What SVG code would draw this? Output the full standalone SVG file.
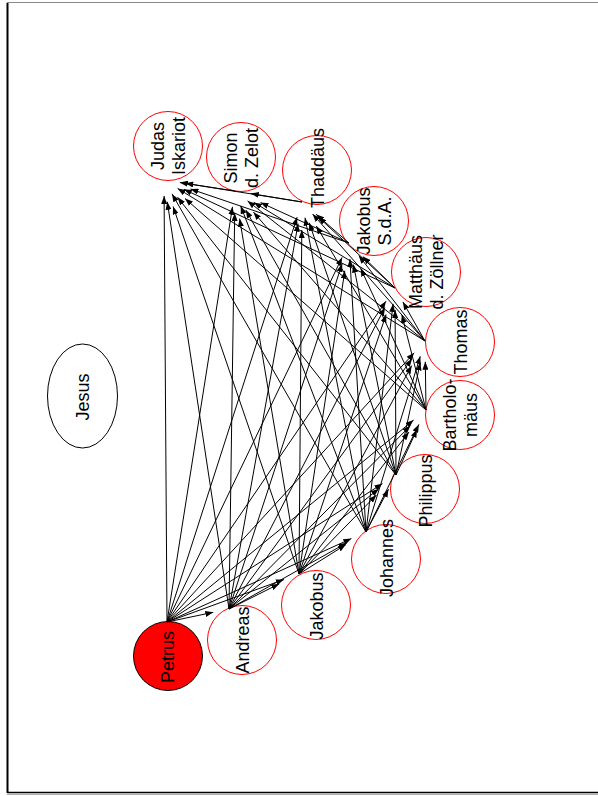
<svg xmlns="http://www.w3.org/2000/svg" width="598" height="796" viewBox="0 0 598 796">
<style>
.n{fill:#fff;stroke:#ff0000;stroke-width:1}
.t{font-family:"Liberation Sans",Arial,sans-serif;font-size:18px;fill:#000;text-anchor:middle}
.e line{stroke:#000;stroke-width:1;marker-end:url(#ah)}
</style>
<defs>
<marker id="ah" markerUnits="userSpaceOnUse" markerWidth="8" markerHeight="6" refX="8" refY="3" orient="auto">
<path d="M0,0 L8,3 L0,6 z" fill="#000"/>
</marker>
</defs>
<rect width="598" height="796" fill="#fff"/>
<g id="frame">
<line x1="7" y1="2.5" x2="598" y2="2.5" stroke="#888" stroke-width="1"/>
<line x1="7.5" y1="3" x2="7.5" y2="793" stroke="#000" stroke-width="2"/>
<line x1="7" y1="792.5" x2="598" y2="792.5" stroke="#000" stroke-width="1.5"/>
<line x1="7" y1="794.3" x2="598" y2="794.3" stroke="#999" stroke-width="1"/>
</g>
<g id="jesus"><ellipse cx="82.5" cy="396" rx="35" ry="52" fill="#fff" stroke="#000" stroke-width="1"/><text class="t" transform="translate(82.5,397) rotate(-90)" y="6">Jesus</text></g>
<g id="petrus"><circle cx="168" cy="656" r="34.5" fill="#ff0000" stroke="#000" stroke-width="1"/><text class="t" transform="translate(168,657) rotate(-90)" y="6">Petrus</text></g>
<g id="andreas"><circle class="n" cx="242" cy="640" r="34.5"/><text class="t" transform="translate(242,640) rotate(-90)" y="6.5">Andreas</text></g>
<g id="jakobus"><circle class="n" cx="316" cy="605" r="34.5"/><text class="t" transform="translate(316,606) rotate(-90)" y="6.5">Jakobus</text></g>
<g id="johannes"><circle class="n" cx="386" cy="559" r="34.5"/><text class="t" transform="translate(386,558) rotate(-90)" y="6.5">Johannes</text></g>
<g id="philippus"><circle class="n" cx="425" cy="489" r="34.5"/><text class="t" transform="translate(425,491) rotate(-90)" y="6.5">Philippus</text></g>
<g id="bartholomaeus"><circle class="n" cx="460" cy="415" r="34.5"/><text class="t" transform="translate(460,415) rotate(-90)"><tspan x="0" y="-3.8">Bartholo-</tspan><tspan x="0" y="17.2">mäus</tspan></text></g>
<g id="thomas"><circle class="n" cx="460" cy="342" r="34.5"/><text class="t" transform="translate(460,342) rotate(-90)" y="6.5">Thomas</text></g>
<g id="matthaeus"><circle class="n" cx="426" cy="272" r="34.5"/><text class="t" transform="translate(426,272) rotate(-90)"><tspan x="0" y="-3.8">Matthäus</tspan><tspan x="0" y="17.2">d. Zöllner</tspan></text></g>
<g id="jakobus-sda"><circle class="n" cx="374" cy="221" r="34.5"/><text class="t" transform="translate(374,221) rotate(-90)"><tspan x="0" y="-3.8">Jakobus</tspan><tspan x="0" y="17.2">S.d.A.</tspan></text></g>
<g id="thaddaeus"><circle class="n" cx="317" cy="170" r="34.5"/><text class="t" transform="translate(317,168) rotate(-90)" y="6.5">Thaddäus</text></g>
<g id="simon"><circle class="n" cx="241" cy="157" r="34.5"/><text class="t" transform="translate(241,158) rotate(-90)"><tspan x="0" y="-3.8">Simon</tspan><tspan x="0" y="17.2">d. Zelot</tspan></text></g>
<g id="judas"><circle class="n" cx="168" cy="146" r="34.5"/><text class="t" transform="translate(168,146) rotate(-90)"><tspan x="0" y="-3.8">Judas</tspan><tspan x="0" y="17.2">Iskariot</tspan></text></g>
<g id="connectors" class="e">
<line x1="167" y1="622" x2="213.3" y2="612.3"/>
<line x1="167" y1="622" x2="284" y2="579.5"/>
<line x1="167" y1="622" x2="351.4" y2="538.6"/>
<line x1="167" y1="622" x2="382.5" y2="483.6"/>
<line x1="167" y1="622" x2="413.6" y2="420.1"/>
<line x1="167" y1="622" x2="414.2" y2="352.8"/>
<line x1="167" y1="622" x2="386" y2="301.2"/>
<line x1="167" y1="622" x2="342.1" y2="257.4"/>
<line x1="167" y1="622" x2="297.1" y2="217.2"/>
<line x1="167" y1="622" x2="232.5" y2="206.8"/>
<line x1="167" y1="622" x2="164.1" y2="196"/>
<line x1="229" y1="609" x2="279.3" y2="583.8"/>
<line x1="229" y1="609" x2="346.8" y2="542.8"/>
<line x1="229" y1="609" x2="378.8" y2="488.8"/>
<line x1="229" y1="609" x2="410.5" y2="425.6"/>
<line x1="229" y1="609" x2="412" y2="358.8"/>
<line x1="229" y1="609" x2="384.9" y2="307.5"/>
<line x1="229" y1="609" x2="342.1" y2="263.9"/>
<line x1="229" y1="609" x2="298.1" y2="223.7"/>
<line x1="229" y1="609" x2="234.7" y2="213"/>
<line x1="229" y1="609" x2="167.3" y2="201.8"/>
<line x1="299" y1="574" x2="345.9" y2="544.6"/>
<line x1="299" y1="574" x2="376.4" y2="495"/>
<line x1="299" y1="574" x2="408.9" y2="432.1"/>
<line x1="299" y1="574" x2="411.7" y2="365.6"/>
<line x1="299" y1="574" x2="386.1" y2="314.5"/>
<line x1="299" y1="574" x2="344.8" y2="270.7"/>
<line x1="299" y1="574" x2="301.8" y2="230"/>
<line x1="299" y1="574" x2="239.6" y2="218.6"/>
<line x1="299" y1="574" x2="173.1" y2="206.5"/>
<line x1="366" y1="532" x2="388.5" y2="489.2"/>
<line x1="366" y1="532" x2="418.9" y2="424.4"/>
<line x1="366" y1="532" x2="420.3" y2="356.3"/>
<line x1="366" y1="532" x2="393.1" y2="303.9"/>
<line x1="366" y1="532" x2="349.9" y2="259"/>
<line x1="366" y1="532" x2="305" y2="217.7"/>
<line x1="366" y1="532" x2="240.7" y2="205.9"/>
<line x1="366" y1="532" x2="172" y2="193.9"/>
<line x1="396" y1="475" x2="417" y2="429.5"/>
<line x1="396" y1="475" x2="420.3" y2="362.5"/>
<line x1="396" y1="475" x2="395.1" y2="310"/>
<line x1="396" y1="475" x2="353.4" y2="264.6"/>
<line x1="396" y1="475" x2="309.2" y2="222.8"/>
<line x1="396" y1="475" x2="245.8" y2="210.1"/>
<line x1="396" y1="475" x2="177.6" y2="197.3"/>
<line x1="426" y1="410" x2="425.3" y2="361.7"/>
<line x1="426" y1="410" x2="401.9" y2="315.1"/>
<line x1="426" y1="410" x2="360.7" y2="268.4"/>
<line x1="426" y1="410" x2="316.3" y2="226"/>
<line x1="426" y1="410" x2="253.4" y2="212.1"/>
<line x1="426" y1="410" x2="185" y2="198.5"/>
<line x1="425" y1="341" x2="402.9" y2="301.9"/>
<line x1="425" y1="341" x2="358.8" y2="255.6"/>
<line x1="425" y1="341" x2="312.6" y2="214"/>
<line x1="425" y1="341" x2="247.6" y2="200.9"/>
<line x1="425" y1="341" x2="177.6" y2="188.4"/>
<line x1="395" y1="288" x2="362.8" y2="256.5"/>
<line x1="395" y1="288" x2="318.1" y2="216.9"/>
<line x1="395" y1="288" x2="253.8" y2="202.4"/>
<line x1="395" y1="288" x2="183.9" y2="189.3"/>
<line x1="349" y1="243" x2="316.1" y2="214.3"/>
<line x1="349" y1="243" x2="260.5" y2="202.6"/>
<line x1="349" y1="243" x2="190.5" y2="189"/>
<line x1="302" y1="202" x2="250.8" y2="193.6"/>
<line x1="302" y1="202" x2="179.8" y2="182.5"/>
<line x1="235" y1="191" x2="185.3" y2="183.3"/>
</g>
</svg>
